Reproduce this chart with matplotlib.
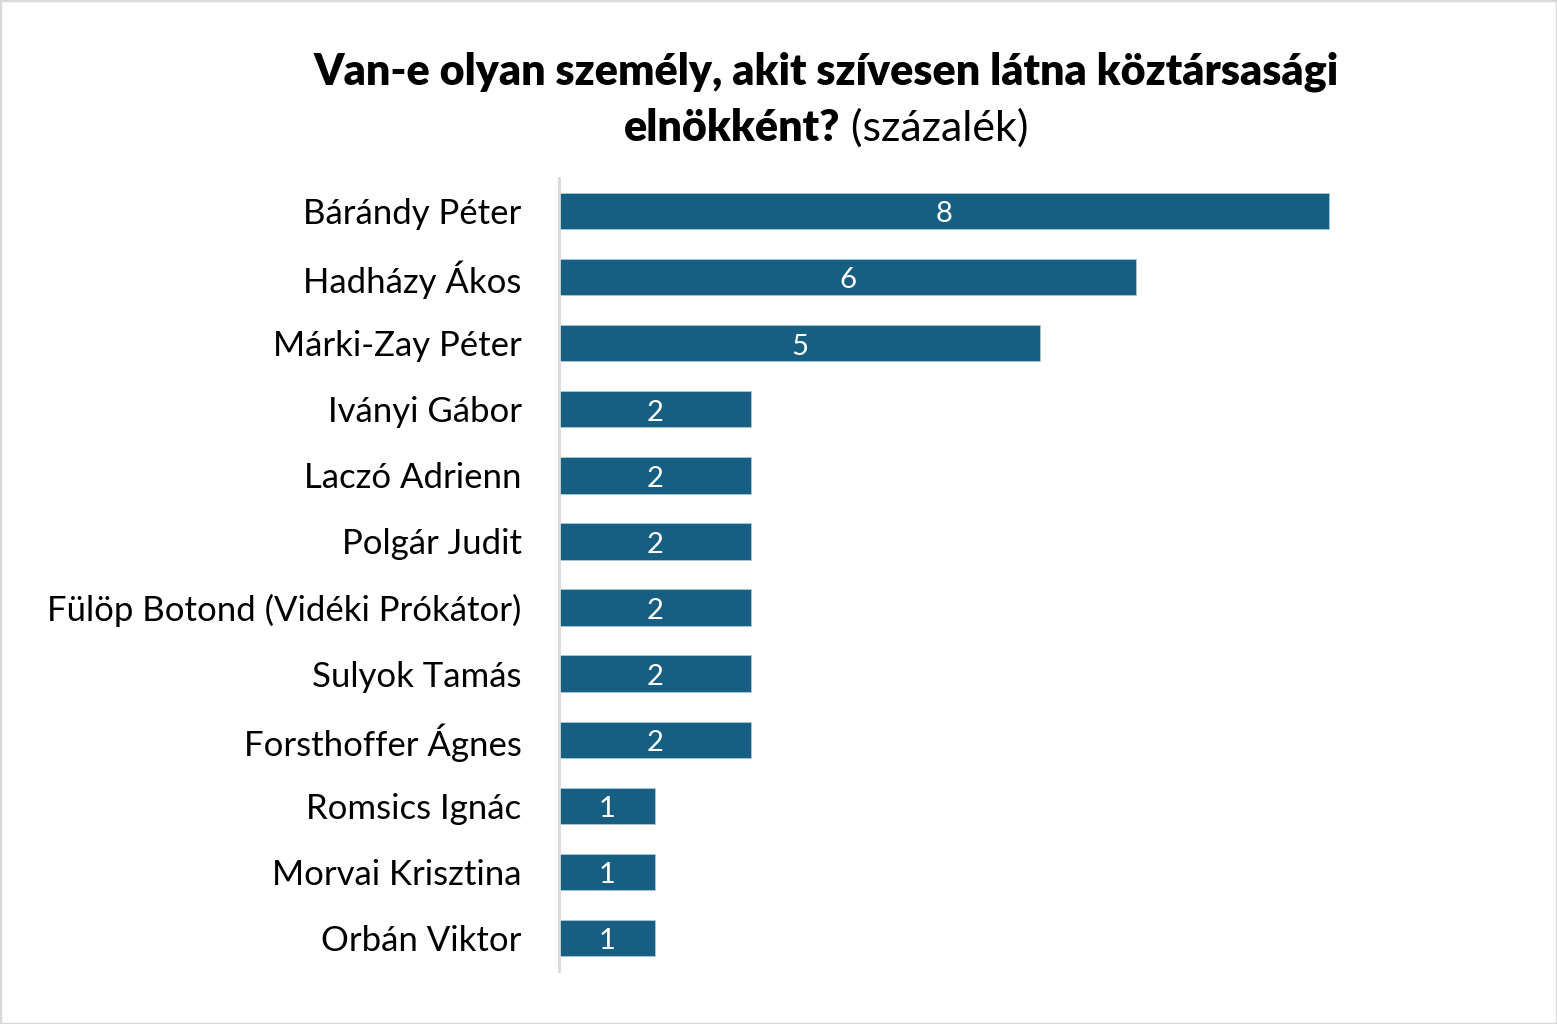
import matplotlib
matplotlib.use("Agg")
import matplotlib.pyplot as plt
from matplotlib.patches import Rectangle

# Adatok
names = [
    "Bárándy Péter",
    "Hadházy Ákos",
    "Márki-Zay Péter",
    "Iványi Gábor",
    "Laczó Adrienn",
    "Polgár Judit",
    "Fülöp Botond (Vidéki Prókátor)",
    "Sulyok Tamás",
    "Forsthoffer Ágnes",
    "Romsics Ignác",
    "Morvai Krisztina",
    "Orbán Viktor",
]
values = [8, 6, 5, 2, 2, 2, 2, 2, 2, 1, 1, 1]

title_line1 = "Van-e olyan személy, akit szívesen látna köztársasági"
title_bold2 = "elnökként?"
title_reg2 = " (százalék)"

BAR_COLOR = "#175f82"
FONT = ["Lato", "DejaVu Sans"]
W, H = 1557, 1024

plt.rcParams["font.family"] = FONT

fig = plt.figure(figsize=(W / 100, H / 100), dpi=100)
fig.patch.set_facecolor("white")
fig.patches.append(Rectangle((0, 0), 1, 1, transform=fig.transFigure,
                             fill=False, edgecolor="#d9d9d9", linewidth=2.5))

left, right = 559 / W, 1425 / W
top, bottom = 1 - 178 / H, 1 - 971 / H
ax = fig.add_axes([left, bottom, right - left, top - bottom])

ys = list(range(len(names)))
ax.barh(ys, values, height=0.55, color=BAR_COLOR, edgecolor="#a9c6d6", linewidth=0.6)
ax.set_ylim(len(names) - 0.5, -0.5)
ax.set_xlim(0, 9)

for y, v in zip(ys, values):
    ax.text(v / 2, y + 0.05, str(v), color="white", ha="center", va="center", fontsize=21)

ax.set_yticks(ys)
ax.set_yticklabels(names, fontsize=25)
ax.tick_params(axis="y", length=0, pad=27)
ax.set_xticks([])
for s in ["top", "right", "bottom"]:
    ax.spines[s].set_visible(False)
ax.spines["left"].set_color("#d9d9d9")
ax.spines["left"].set_linewidth(2)

# Cím
cx = 826 / W
fig.text(cx, 1 - 72 / H, title_line1, ha="center", va="center",
         fontsize=31, fontweight="heavy")
fig.canvas.draw()
r = fig.canvas.get_renderer()
tb = fig.text(0, 1 - 128 / H, title_bold2, ha="left", va="center",
              fontsize=31, fontweight="heavy")
tr = fig.text(0, 1 - 128 / H, title_reg2, ha="left", va="center", fontsize=31)
wb = tb.get_window_extent(r).width
wr = tr.get_window_extent(r).width
x0 = cx * W - (wb + wr) / 2
tb.set_x(x0 / W)
tr.set_x((x0 + wb) / W)

fig.savefig("out.png", dpi=100, facecolor="white")
